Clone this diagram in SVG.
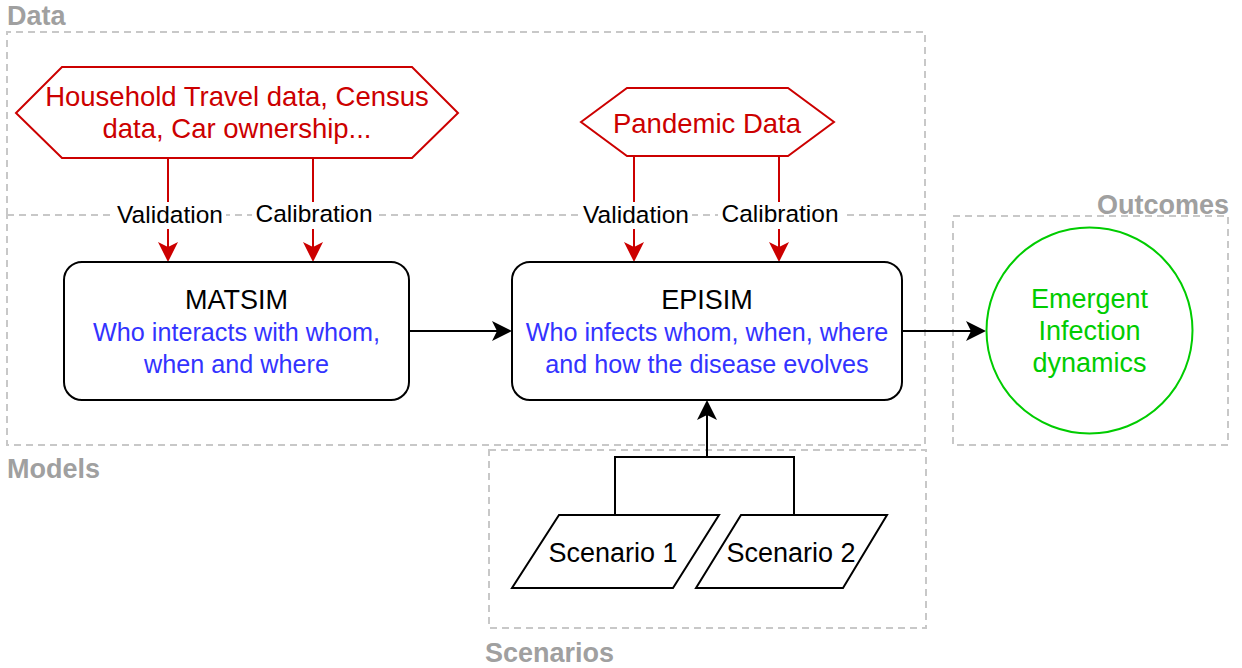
<svg xmlns="http://www.w3.org/2000/svg" width="1242" height="668" viewBox="0 0 1242 668">
<defs>
<style>
text{font-family:"Liberation Sans",Arial,Helvetica,sans-serif}
.grp{fill:none;stroke:#C8C8C8;stroke-width:2;stroke-dasharray:7 5}
.gl{font-size:27px;font-weight:bold;fill:#A0A0A0}
.hex{fill:#fff;stroke:#CC0000;stroke-width:2}
.ht{font-size:27.5px;fill:#CC0000;text-anchor:middle}
.box{fill:#fff;stroke:#000;stroke-width:2}
.tt{font-size:27px;fill:#000;text-anchor:middle}
.bt{font-size:25.2px;fill:#3333FF;text-anchor:middle}
.gt{font-size:27px;fill:#00CC00;text-anchor:middle}
.lbl{font-size:24.5px;fill:#000;text-anchor:middle}
.lbg{fill:#fff;stroke:none}
.red{fill:none;stroke:#CC0000;stroke-width:2;marker-end:url(#ah-red)}
.blk{fill:none;stroke:#000;stroke-width:2}
.blka{fill:none;stroke:#000;stroke-width:2;marker-end:url(#ah-blk)}
</style>
<marker id="ah-red" viewBox="0 0 20 20" refX="5" refY="10" markerWidth="20" markerHeight="20" markerUnits="userSpaceOnUse" orient="auto">
<path d="M0,0 L20,10 L0,20 L5,10 Z" fill="#CC0000"/>
</marker>
<marker id="ah-blk" viewBox="0 0 20 20" refX="5" refY="10" markerWidth="20" markerHeight="20" markerUnits="userSpaceOnUse" orient="auto">
<path d="M0,0 L20,10 L0,20 L5,10 Z" fill="#000"/>
</marker>
</defs>
<rect width="1242" height="668" fill="#fff"/>

<g id="group-data">
<path class="grp" d="M7,215 V32 H925 V215"/>
<text class="gl" x="7" y="25">Data</text>
</g>
<g id="group-models">
<rect class="grp" x="7" y="215" width="918" height="230"/>
<text class="gl" x="7" y="478">Models</text>
</g>
<g id="group-scenarios">
<rect class="grp" x="489" y="450" width="437" height="178"/>
<text class="gl" x="485" y="662">Scenarios</text>
</g>
<g id="group-outcomes">
<rect class="grp" x="953" y="216" width="275" height="229"/>
<text class="gl" x="1229" y="214" text-anchor="end">Outcomes</text>
</g>

<g id="connectors">
<line class="red" x1="168" y1="158" x2="168" y2="247"/>
<line class="red" x1="313" y1="158" x2="313" y2="247"/>
<line class="red" x1="634" y1="156" x2="634" y2="247"/>
<line class="red" x1="779" y1="156" x2="779" y2="247"/>
<line class="blka" x1="409" y1="331" x2="497" y2="331"/>
<line class="blka" x1="902" y1="331" x2="971" y2="331"/>
<path class="blk" d="M615,515 V457 H794 V515"/>
<line class="blka" x1="707" y1="457" x2="707" y2="415"/>
<rect class="lbg" x="114" y="202" width="112" height="27"/>
<text class="lbl" x="170" y="223">Validation</text>
<rect class="lbg" x="252" y="202" width="124" height="27"/>
<text class="lbl" x="314" y="222">Calibration</text>
<rect class="lbg" x="580" y="202" width="112" height="27"/>
<text class="lbl" x="636" y="223">Validation</text>
<rect class="lbg" x="718" y="202" width="124" height="27"/>
<text class="lbl" x="780" y="222">Calibration</text>
</g>

<g id="node-household">
<polygon class="hex" points="16,113 62,67 412,67 458,113 412,158 62,158"/>
<text class="ht" x="237" y="106">Household Travel data, Census</text>
<text class="ht" x="237" y="138">data, Car ownership...</text>
</g>
<g id="node-pandemic">
<polygon class="hex" points="581,122 627,88 788,88 834,122 788,156 627,156"/>
<text class="ht" x="707" y="133">Pandemic Data</text>
</g>
<g id="node-matsim">
<rect class="box" x="64" y="262" width="345" height="138" rx="18"/>
<text class="tt" x="236.5" y="309">MATSIM</text>
<text class="bt" x="236.5" y="341">Who interacts with whom,</text>
<text class="bt" x="236.5" y="373">when and where</text>
</g>
<g id="node-episim">
<rect class="box" x="512" y="262" width="390" height="138" rx="18"/>
<text class="tt" x="707" y="309">EPISIM</text>
<text class="bt" x="707" y="341">Who infects whom, when, where</text>
<text class="bt" x="707" y="373">and how the disease evolves</text>
</g>
<g id="node-outcome">
<circle cx="1089.5" cy="330.5" r="103" fill="#fff" stroke="#00CC00" stroke-width="2"/>
<text class="gt" x="1089.5" y="308">Emergent</text>
<text class="gt" x="1089.5" y="340">Infection</text>
<text class="gt" x="1089.5" y="372">dynamics</text>
</g>
<g id="node-scenario1">
<polygon class="box" points="559,515 719,515 673,588 512,588"/>
<text class="tt" x="613" y="562">Scenario 1</text>
</g>
<g id="node-scenario2">
<polygon class="box" points="741,515 887,515 843,588 696,588"/>
<text class="tt" x="791" y="562">Scenario 2</text>
</g>
</svg>
